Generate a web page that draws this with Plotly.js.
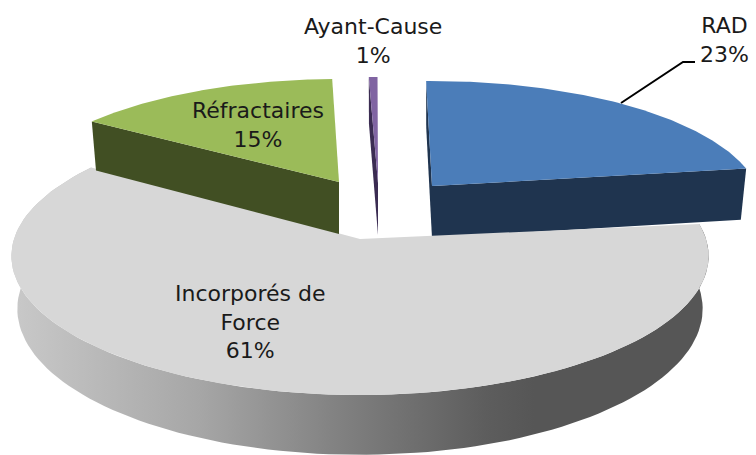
<!DOCTYPE html>
<html>
<head>
<meta charset="utf-8">
<script src="https://cdn.plot.ly/plotly-3.0.1.min.js"></script>
<style>
html, body { margin: 0; padding: 0; background: #fff; overflow: hidden; }
#chart { width: 756px; height: 455px; }
</style>
</head>
<body>
<div id="chart"></div>
<script>
var categories = ['RAD', 'Incorporés de<br>Force', 'Réfractaires', 'Ayant-Cause'];
var values = [23, 61.2, 15.3, 0.5];
var topColors = ['#4b7db9', '#d7d7d7', '#9bbb59', '#8064a2'];
var sideColors = ['#1f344f', '#808080', '#414f23', '#3b2c52'];

// hand fitted look of the exploded, tilted pie
var startAngle = -1.2;
var tipX = [432, 360, 339, 378];
var tipY = [186, 239, 182, 183];
var spreadX = [325, 346, 322, 320];
var spreadY = [125, 139, 122, 125];
var lift = [20, 17, 19, 19];
var turn = [0, 2, 1.6, 1.1];
var labelX = [724, 250, 258, 373];
var labelY = [40, 322, 125, 41];

// position on the top face, a = degrees clockwise from 12 o'clock
function project(i, a) {
  var u = Math.sin(a * Math.PI / 180);
  var v = Math.cos(a * Math.PI / 180);
  var w = 1 + v * lift[i] / spreadY[i];
  return {
    x: tipX[i] + spreadX[i] * u / w,
    y: tipY[i] + lift[i] - (spreadY[i] * v + lift[i]) / w
  };
}

// same point pushed down to the bottom face
function drop(i, p) {
  return {
    x: tipX[i] + (p.x - tipX[i]) * 0.983,
    y: tipY[i] + 52 + (p.y - tipY[i]) * 1.05
  };
}

function shape(points, color, name) {
  return {
    type: 'scatter', mode: 'lines', name: name, hoverinfo: 'skip',
    x: points.map(function (p) { return p.x; }),
    y: points.map(function (p) { return p.y; }),
    line: { width: 0, color: color },
    fill: 'toself', fillcolor: color
  };
}

function arc(i, a0, a1) {
  var pts = [];
  for (var n = 0; n <= 120; n++) pts.push(project(i, a0 + (a1 - a0) * n / 120));
  return pts;
}

var traces = [];
var angle = startAngle;
values.forEach(function (val, i) {
  var a0 = angle + turn[i];
  var a1 = a0 + val * 3.6;
  angle += val * 3.6;
  var tip = { x: tipX[i], y: tipY[i] };
  var outer = arc(i, a0, a1);

  if (i === 1) {
    // the big slice shows its rim, shaded left to right
    var rim = outer.concat(outer.map(function (p) { return drop(i, p); }).reverse());
    var t = shape(rim, sideColors[i], categories[i] + ' rim');
    t.fillgradient = {
      type: 'horizontal', start: 12, stop: 709,
      colorscale: [[0, '#c9c9c9'], [0.27, '#a6a6a6'], [0.48, '#7f7f7f'], [0.68, '#5d5d5d'], [0.75, '#565656'], [1, '#565656']]
    };
    traces.push(t);
  } else {
    // the cut sides
    var first = outer[0];
    traces.push(shape([tip, first, drop(i, first), drop(i, tip)], sideColors[i], categories[i] + ' side'));
    if (i === 0) {
      var last = outer[outer.length - 1];
      traces.push(shape([tip, last, drop(i, last), drop(i, tip)], sideColors[i], categories[i] + ' front'));
    }
  }
  traces.push(shape([tip].concat(outer), topColors[i], categories[i]));
});

// leader line of the RAD label
traces.push({
  type: 'scatter', mode: 'lines', hoverinfo: 'skip',
  x: [621, 683, 695], y: [103, 62, 62],
  line: { color: '#000', width: 2 }
});

var annotations = categories.map(function (c, i) {
  return {
    x: labelX[i], y: labelY[i], xref: 'x', yref: 'y',
    text: c + '<br>' + Math.round(values[i]) + '%',
    showarrow: false, align: 'center',
    font: { family: 'DejaVu Sans', size: 22, color: '#1a1a1a' }
  };
});

var layout = {
  width: 756, height: 455,
  margin: { l: 0, r: 0, t: 0, b: 0 },
  paper_bgcolor: '#fff', plot_bgcolor: '#fff',
  showlegend: false,
  xaxis: { range: [0, 756], visible: false, fixedrange: true },
  yaxis: { range: [455, 0], visible: false, fixedrange: true },
  annotations: annotations
};

Plotly.newPlot('chart', traces, layout, { displayModeBar: false, staticPlot: true });
</script>
</body>
</html>
